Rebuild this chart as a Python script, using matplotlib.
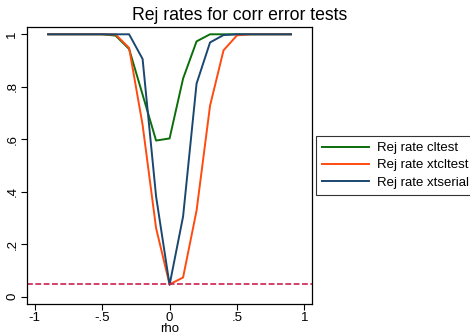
import numpy as np
import matplotlib
matplotlib.use("Agg")
import matplotlib.pyplot as plt

plt.rcParams['font.family'] = ['Liberation Sans', 'DejaVu Sans']

# rho grid
rho = [-0.9, -0.8, -0.7, -0.6, -0.5, -0.4, -0.3, -0.2, -0.1, 0.0,
       0.1, 0.2, 0.3, 0.4, 0.5, 0.6, 0.7, 0.8, 0.9]

# rejection rates
rej_cltest = [1.0, 1.0, 1.0, 1.0, 1.0, 0.995, 0.944, 0.77, 0.595, 0.603,
              0.831, 0.973, 1.0, 1.0, 1.0, 1.0, 1.0, 1.0, 1.0]
rej_xtcltest = [1.0, 1.0, 1.0, 1.0, 1.0, 0.999, 0.948, 0.655, 0.261, 0.047,
                0.073, 0.328, 0.728, 0.939, 0.996, 1.0, 1.0, 1.0, 1.0]
rej_xtserial = [1.0, 1.0, 1.0, 1.0, 1.0, 1.0, 1.0, 0.906, 0.382, 0.045,
                0.305, 0.812, 0.969, 0.997, 1.0, 1.0, 1.0, 1.0, 1.0]
nominal = 0.05

labels = ['Rej rate cltest', 'Rej rate xtcltest', 'Rej rate xtserial']
colors = ['#0b6e0b', '#ff4a10', '#1a476f']

fig = plt.figure(figsize=(4.7, 3.36), dpi=100)
ax = fig.add_axes([0.0568, 0.0952, 0.608, 0.8254])

for yv, lab, c in zip([rej_cltest, rej_xtcltest, rej_xtserial], labels, colors):
    ax.plot(rho, yv, color=c, lw=1.4, label=lab)

ax.axhline(nominal, color='#cc2050', lw=1.2, dashes=(3.5, 1.5))

ax.set_xlim(-1.059, 1.059)
ax.set_ylim(-0.028, 1.029)
ax.set_xticks([-1, -0.5, 0, 0.5, 1])
ax.set_xticklabels(['-1', '-.5', '0', '.5', '1'])
ax.set_yticks([0, 0.2, 0.4, 0.6, 0.8, 1])
ax.set_yticklabels(['0', '.2', '.4', '.6', '.8', '1'], rotation=90, va='center')
ax.tick_params(labelsize=9.5, length=4, width=0.8, pad=2)
for s in ax.spines.values():
    s.set_linewidth(0.9)
ax.set_xlabel('rho', fontsize=9.5, labelpad=-1)

fig.suptitle('Rej rates for corr error tests', fontsize=12.7, x=0.51, y=0.98)

leg = ax.legend(loc='center left', bbox_to_anchor=(1.012, 0.5), fontsize=9.5,
                frameon=True, fancybox=False, edgecolor='black',
                handlelength=3.6, handletextpad=0.6, borderpad=0.45,
                labelspacing=0.38, borderaxespad=0)
leg.get_frame().set_linewidth(0.8)

fig.savefig('out.png', dpi=100)
